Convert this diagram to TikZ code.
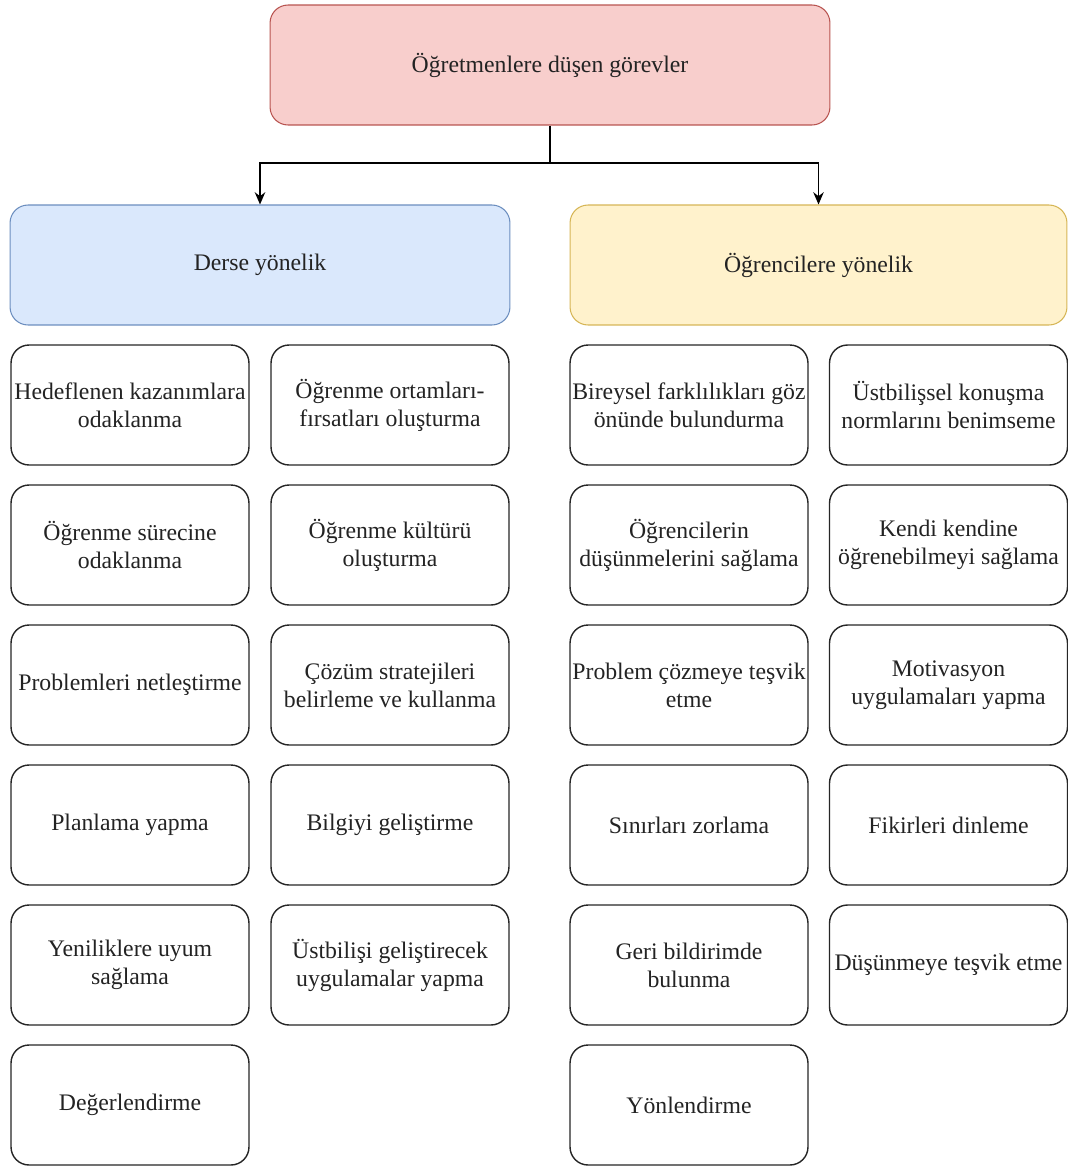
\documentclass[tikz,border=0pt]{standalone}
\usepackage{fontspec}
\setmainfont{Liberation Serif}
\usepackage{tikz}
\usetikzlibrary{arrows.meta, positioning}
\definecolor{topfill}{HTML}{F8CECC}
\definecolor{topdraw}{HTML}{B85450}
\definecolor{bluefill}{HTML}{DAE8FC}
\definecolor{bluedraw}{HTML}{6C8EBF}
\definecolor{yelfill}{HTML}{FFF2CC}
\definecolor{yeldraw}{HTML}{D6B656}
\definecolor{txtdark}{RGB}{35,35,35}
\tikzset{
  topbox/.style={rectangle, draw=topdraw, fill=topfill, minimum width=11.2cm, minimum height=2.4cm, rounded corners=0.36cm, line width=0.6pt, align=center, text=txtdark, font=\fontsize{13.5}{16}\selectfont},
  derbox/.style={rectangle, draw=bluedraw, fill=bluefill, minimum width=10cm, minimum height=2.4cm, rounded corners=0.36cm, line width=0.6pt, align=center, text=txtdark, font=\fontsize{13.5}{16}\selectfont},
  ogrbox/.style={rectangle, draw=yeldraw, fill=yelfill, minimum width=9.94cm, minimum height=2.4cm, rounded corners=0.36cm, line width=0.6pt, align=center, text=txtdark, font=\fontsize{13.5}{16}\selectfont},
  task/.style={rectangle, draw=black!85, fill=white, minimum width=4.76cm, minimum height=2.4cm, inner sep=0pt, rounded corners=0.36cm, line width=0.8pt, align=center, text=txtdark, font=\fontsize{13.5}{16}\selectfont},
  arrow/.style={-{Stealth[length=7pt, width=6pt]}, line width=0.8pt, color=black}
}
\begin{document}
\begin{tikzpicture}[x=0.02cm, y=-0.02cm]
  \useasboundingbox (0,0) rectangle (1068,1167);

  % Top and headers
  \node[topbox] (gorev) at (550,65) {Öğretmenlere düşen görevler};
  \node[derbox] (derse) at (260,265) {Derse yönelik};
  \node[ogrbox] (ogrenci) at (818.5,265) {Öğrencilere yönelik};

  \coordinate (split) at (550,163);
  \draw[line width=0.8pt] (gorev.south) -- (split);
  \draw[arrow] (split) -| (derse.north);
  \draw[arrow] (split) -| (ogrenci.north);

  % Derse yonelik
  \node[task] (d1) at (130,405) {Hedeflenen kazanımlara\\odaklanma};
  \node[task] (d2) at (130,545) {Öğrenme sürecine\\odaklanma};
  \node[task] (d3) at (130,685) {Problemleri netleştirme};
  \node[task] (d4) at (130,825) {Planlama yapma};
  \node[task] (d5) at (130,965) {Yeniliklere uyum\\sağlama};
  \node[task] (d6) at (130,1105) {Değerlendirme};

  \node[task] (e1) at (390,405) {Öğrenme ortamları-\\fırsatları oluşturma};
  \node[task] (e2) at (390,545) {Öğrenme kültürü\\oluşturma};
  \node[task] (e3) at (390,685) {Çözüm stratejileri\\belirleme ve kullanma};
  \node[task] (e4) at (390,825) {Bilgiyi geliştirme};
  \node[task] (e5) at (390,965) {Üstbilişi geliştirecek\\uygulamalar yapma};

  % Ogrencilere yonelik
  \node[task] (o1) at (689,405) {Bireysel farklılıkları göz\\önünde bulundurma};
  \node[task] (o2) at (689,545) {Öğrencilerin\\düşünmelerini sağlama};
  \node[task] (o3) at (689,685) {Problem çözmeye teşvik\\etme};
  \node[task] (o4) at (689,825) {Sınırları zorlama};
  \node[task] (o5) at (689,965) {Geri bildirimde\\bulunma};
  \node[task] (o6) at (689,1105) {Yönlendirme};

  \node[task] (p1) at (948.5,405) {Üstbilişsel konuşma\\normlarını benimseme};
  \node[task] (p2) at (948.5,545) {Kendi kendine\\öğrenebilmeyi sağlama};
  \node[task] (p3) at (948.5,685) {Motivasyon\\uygulamaları yapma};
  \node[task] (p4) at (948.5,825) {Fikirleri dinleme};
  \node[task] (p5) at (948.5,965) {Düşünmeye teşvik etme};
\end{tikzpicture}
\end{document}
